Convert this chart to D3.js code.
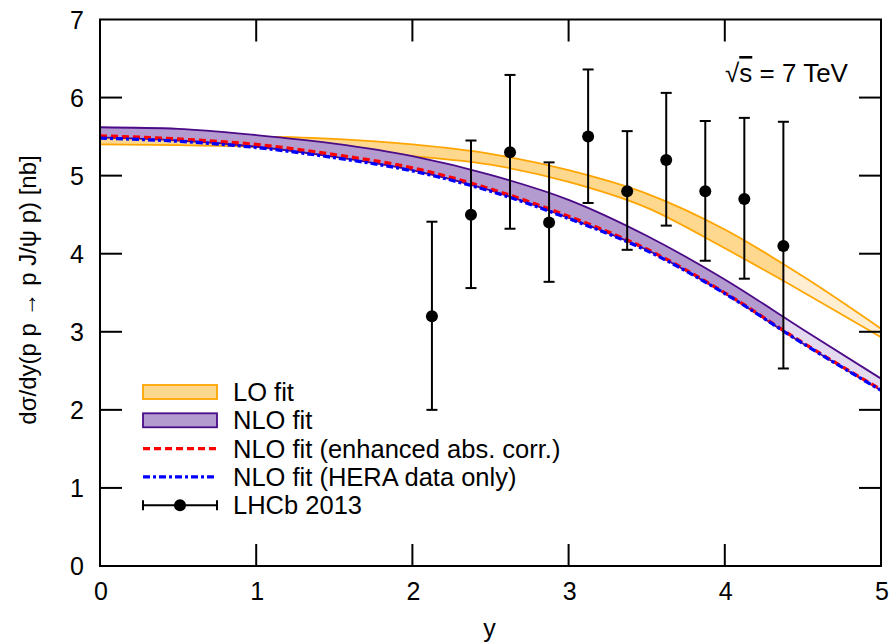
<!DOCTYPE html>
<html>
<head>
<meta charset="utf-8">
<script src="https://cdn.jsdelivr.net/npm/d3@7"></script>
<style>
  body { margin: 0; background: #fff; }
  svg text { font-family: "Liberation Sans", Arial, Helvetica, sans-serif; fill: #000; }
</style>
</head>
<body>
<svg id="chart" width="893" height="644"></svg>
<script>
// rapidity grid for the theory curves
var yGrid   = [0, 0.5, 1, 1.5, 2, 2.5, 3, 3.5, 4, 4.5, 5];
var loHigh  = [5.49, 5.50, 5.50, 5.47, 5.40, 5.28, 5.07, 4.77, 4.31, 3.71, 3.04];
var loLow   = [5.40, 5.39, 5.37, 5.32, 5.25, 5.14, 4.92, 4.59, 4.07, 3.51, 2.93];
var nloHigh = [5.62, 5.60, 5.52, 5.41, 5.25, 5.01, 4.69, 4.23, 3.67, 3.03, 2.40];
var nloLow  = [5.49, 5.45, 5.37, 5.24, 5.07, 4.81, 4.46, 4.05, 3.49, 2.85, 2.25];
var nloEnh  = [5.51, 5.47, 5.40, 5.27, 5.10, 4.83, 4.48, 4.06, 3.50, 2.86, 2.26];
var nloHera = [5.48, 5.44, 5.36, 5.23, 5.06, 4.80, 4.45, 4.04, 3.49, 2.85, 2.25];

// LHCb 2013 data
var lhcbY    = [2.125, 2.375, 2.625, 2.875, 3.125, 3.375, 3.625, 3.875, 4.125, 4.375];
var lhcbVal  = [3.2, 4.5, 5.3, 4.4, 5.5, 4.8, 5.2, 4.8, 4.7, 4.1];
var lhcbHigh = [4.41, 5.45, 6.29, 5.17, 6.36, 5.57, 6.06, 5.70, 5.74, 5.69];
var lhcbLow  = [2.0, 3.56, 4.32, 3.64, 4.65, 4.05, 4.36, 3.91, 3.68, 2.53];

var xTicks = [0, 1, 2, 3, 4, 5];
var yTicks = [0, 1, 2, 3, 4, 5, 6, 7];
var fadeFrom = 4.375;

var legendItems = ["LO fit", "NLO fit", "NLO fit (enhanced abs. corr.)", "NLO fit (HERA data only)", "LHCb 2013"];

var padding = {left: 100, right: 12, top: 19.5, bottom: 78};
var W = 893, H = 644;
var svg = d3.select('#chart');

var xScale = d3.scaleLinear().domain([0, 5]).range([padding.left, W - padding.right]);
var yScale = d3.scaleLinear().domain([0, 7]).range([H - padding.bottom, padding.top]);

var grid = yGrid.map(function(d, i) {
  return {y: d, loH: loHigh[i], loL: loLow[i], nH: nloHigh[i], nL: nloLow[i], enh: nloEnh[i], hera: nloHera[i]};
});

// clips for the normal and faded parts of the bands
var defs = svg.append('defs');
defs.append('clipPath').attr('id', 'clipMain').append('rect')
  .attr('x', xScale(0)).attr('y', yScale(7))
  .attr('width', xScale(fadeFrom) - xScale(0)).attr('height', yScale(0) - yScale(7));
defs.append('clipPath').attr('id', 'clipFade').append('rect')
  .attr('x', xScale(fadeFrom)).attr('y', yScale(7))
  .attr('width', xScale(5) - xScale(fadeFrom)).attr('height', yScale(0) - yScale(7));

function band(keyHi, keyLo, fill, fadeFill, stroke) {
  var area = d3.area().curve(d3.curveMonotoneX)
    .x(function(d) { return xScale(d.y); })
    .y0(function(d) { return yScale(d[keyLo]); })
    .y1(function(d) { return yScale(d[keyHi]); });
  svg.append('path').datum(grid).attr('d', area).attr('fill', fill).attr('clip-path', 'url(#clipMain)');
  svg.append('path').datum(grid).attr('d', area).attr('fill', fadeFill).attr('clip-path', 'url(#clipFade)');
  [keyHi, keyLo].forEach(function(k) {
    var line = d3.line().curve(d3.curveMonotoneX)
      .x(function(d) { return xScale(d.y); })
      .y(function(d) { return yScale(d[k]); });
    svg.append('path').datum(grid).attr('d', line)
      .attr('fill', 'none').attr('stroke', stroke).attr('stroke-width', 1.8);
  });
}

band('loH', 'loL', '#ffd890', '#ffeed2', '#ffa500');
band('nH', 'nL', '#b39bd0', '#e4daf0', '#4b0a87');

function curve(key, color, dash) {
  var line = d3.line().curve(d3.curveMonotoneX)
    .x(function(d) { return xScale(d.y); })
    .y(function(d) { return yScale(d[key]); });
  svg.append('path').datum(grid).attr('d', line)
    .attr('fill', 'none').attr('stroke', color).attr('stroke-width', 3.2)
    .attr('stroke-dasharray', dash);
}
curve('enh', '#ff0000', '7,4');
curve('hera', '#0000ff', '7,3,3,3');

// data points with error bars
var pts = lhcbY.map(function(d, i) {
  return {y: d, v: lhcbVal[i], hi: lhcbHigh[i], lo: lhcbLow[i]};
});
var pg = svg.append('g');
pts.forEach(function(p) {
  var cx = xScale(p.y);
  pg.append('line').attr('x1', cx).attr('x2', cx).attr('y1', yScale(p.lo)).attr('y2', yScale(p.hi))
    .attr('stroke', '#000').attr('stroke-width', 2);
  [p.lo, p.hi].forEach(function(e) {
    pg.append('line').attr('x1', cx - 5.5).attr('x2', cx + 5.5).attr('y1', yScale(e)).attr('y2', yScale(e))
      .attr('stroke', '#000').attr('stroke-width', 2);
  });
  pg.append('circle').attr('cx', cx).attr('cy', yScale(p.v)).attr('r', 6).attr('fill', '#000');
});

// frame and inward ticks on all sides
var x0 = xScale(0), x1 = xScale(5), yb = yScale(0), yt = yScale(7), tl = 22;
svg.append('rect').attr('x', x0).attr('y', yt).attr('width', x1 - x0).attr('height', yb - yt)
  .attr('fill', 'none').attr('stroke', '#000').attr('stroke-width', 2);

var ax = svg.append('g');
xTicks.forEach(function(t) {
  var x = xScale(t);
  if (t > 0 && t < 5) {
    ax.append('line').attr('x1', x).attr('x2', x).attr('y1', yb).attr('y2', yb - tl).attr('stroke', '#000').attr('stroke-width', 2);
    ax.append('line').attr('x1', x).attr('x2', x).attr('y1', yt).attr('y2', yt + tl).attr('stroke', '#000').attr('stroke-width', 2);
  }
  ax.append('text').attr('x', x + 1).attr('y', yb + 34).attr('text-anchor', 'middle')
    .style('font-size', '25px').text(t);
});
yTicks.forEach(function(t) {
  var y = yScale(t);
  if (t > 0 && t < 7) {
    ax.append('line').attr('x1', x0).attr('x2', x0 + tl).attr('y1', y).attr('y2', y).attr('stroke', '#000').attr('stroke-width', 2);
    ax.append('line').attr('x1', x1).attr('x2', x1 - tl).attr('y1', y).attr('y2', y).attr('stroke', '#000').attr('stroke-width', 2);
  }
  ax.append('text').attr('x', x0 - 16).attr('y', y + 9).attr('text-anchor', 'end')
    .style('font-size', '25px').text(t);
});

svg.append('text').attr('x', (x0 + x1) / 2 - 1).attr('y', 637).attr('text-anchor', 'middle')
  .style('font-size', '25px').text('y');
svg.append('text').attr('transform', 'translate(36,' + 290 + ') rotate(-90)').attr('text-anchor', 'middle')
  .style('font-size', '24px').text('dσ/dy(p p → p J/ψ p) [nb]');

// sqrt(s) label
var lab = svg.append('text').attr('x', 725).attr('y', 82).style('font-size', '26px');
lab.append('tspan').text('√');
lab.append('tspan').attr('text-decoration', 'overline').text('s');
lab.append('tspan').text(' = 7 TeV');

// legend
var lg = svg.append('g');
var lx0 = 143, lx1 = 217, ly0 = 392, ldy = 28.3;
legendItems.forEach(function(name, i) {
  var y = ly0 + i * ldy;
  if (i === 0 || i === 1) {
    lg.append('rect').attr('x', lx0).attr('y', y - 7).attr('width', lx1 - lx0).attr('height', 14)
      .attr('fill', i === 0 ? '#ffd890' : '#b39bd0').attr('stroke', i === 0 ? '#ffa500' : '#4b0a87').attr('stroke-width', 1.8);
  } else if (i === 2) {
    lg.append('line').attr('x1', lx0).attr('x2', lx1).attr('y1', y).attr('y2', y)
      .attr('stroke', '#ff0000').attr('stroke-width', 3.2).attr('stroke-dasharray', '7,4');
  } else if (i === 3) {
    lg.append('line').attr('x1', lx0).attr('x2', lx1).attr('y1', y).attr('y2', y)
      .attr('stroke', '#0000ff').attr('stroke-width', 3.2).attr('stroke-dasharray', '7,3,3,3');
  } else {
    lg.append('line').attr('x1', lx0).attr('x2', lx1).attr('y1', y).attr('y2', y).attr('stroke', '#000').attr('stroke-width', 2);
    [lx0, lx1].forEach(function(x) {
      lg.append('line').attr('x1', x).attr('x2', x).attr('y1', y - 5).attr('y2', y + 5).attr('stroke', '#000').attr('stroke-width', 2);
    });
    lg.append('circle').attr('cx', (lx0 + lx1) / 2).attr('cy', y).attr('r', 6).attr('fill', '#000');
  }
  lg.append('text').attr('x', 233).attr('y', y + 9).style('font-size', '25.5px').text(name);
});
</script>
</body>
</html>
